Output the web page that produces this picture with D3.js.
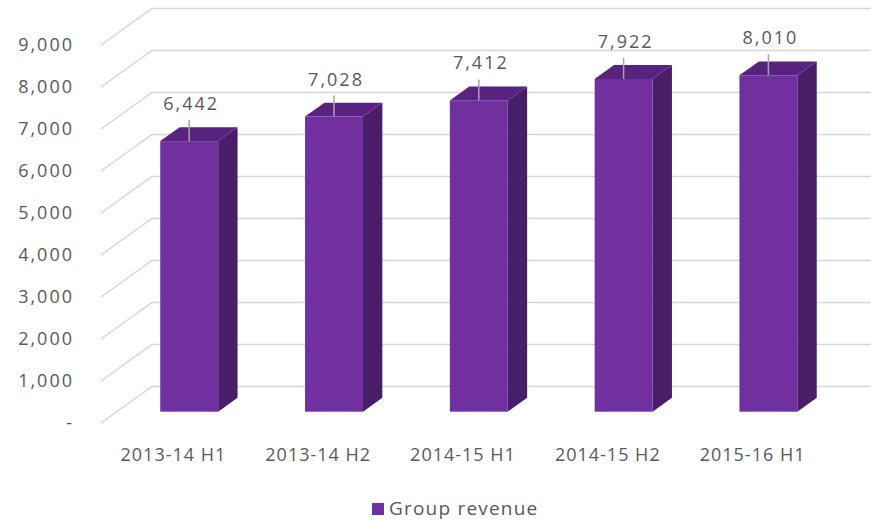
<!DOCTYPE html>
<html>
<head>
<meta charset="utf-8">
<script src="https://cdn.jsdelivr.net/npm/d3@7"></script>
<style>
  body { margin: 0; background: #fff; }
  svg text { font-family: "Open Sans", sans-serif; fill: #595959; }
</style>
</head>
<body>
<div id="chart"><svg width="871" height="522"></svg></div>
<script>
// data
const categories = ["2013-14 H1", "2013-14 H2", "2014-15 H1", "2014-15 H2", "2015-16 H1"];
const revenue = [6442, 7028, 7412, 7922, 8010];
const yTicks = [0, 1000, 2000, 3000, 4000, 5000, 6000, 7000, 8000, 9000];
const seriesName = "Group revenue";

const data = categories.map((c, i) => ({cat: c, value: revenue[i]}));

/***** SETUP *****/
const svg = d3.select("#chart").select("svg");
const width = 871;

// oblique depth: z=0 front of floor, z=1 back wall
const depthX = 51, depthY = 36.5;
const zFront = 0.31, zBack = 0.69;

const xScale = d3.scaleBand()
    .domain(categories)
    .range([101, 825])
    .paddingInner(0.6)
    .paddingOuter(0.3);

const yScale = d3.scaleLinear()
    .domain([0, 9000])
    .range([423, 45]);

const fmt = d3.format(",");

/***** GRIDLINES *****/
const grid = svg.append("g").attr("class", "grid");
grid.selectAll("polyline")
    .data(yTicks)
    .join("polyline")
    .attr("points", d => {
        const y = yScale(d);
        return [[101, y], [101 + depthX, y - depthY], [width, y - depthY]].join(" ");
    })
    .attr("fill", "none")
    .attr("stroke", "#d6d6d6")
    .attr("stroke-width", 1.5);

/***** Y AXIS LABELS *****/
svg.append("g").attr("class", "yAxis")
    .selectAll("text")
    .data(yTicks)
    .join("text")
    .attr("x", 74)
    .attr("y", d => yScale(d))
    .attr("dy", "0.36em")
    .attr("text-anchor", "end")
    .style("font-size", "18px")
    .style("letter-spacing", "2px")
    .text(d => d === 0 ? "-" : fmt(d));

/***** BARS *****/
const bars = svg.append("g").attr("class", "bars");
const g = bars.selectAll("g")
    .data(data)
    .join("g");

function pt(x, y, z) { return [x + depthX * z, y - depthY * z]; }

// side face
g.append("polygon")
    .attr("points", d => {
        const x = xScale(d.cat) + xScale.bandwidth();
        return [pt(x, yScale(0), zFront), pt(x, yScale(0), zBack),
                pt(x, yScale(d.value), zBack), pt(x, yScale(d.value), zFront)].join(" ");
    })
    .attr("fill", "#481e68");

// top face
g.append("polygon")
    .attr("points", d => {
        const x0 = xScale(d.cat), x1 = x0 + xScale.bandwidth(), y = yScale(d.value);
        return [pt(x0, y, zFront), pt(x1, y, zFront), pt(x1, y, zBack), pt(x0, y, zBack)].join(" ");
    })
    .attr("fill", "#57237f");

// front face
g.append("rect")
    .attr("x", d => pt(xScale(d.cat), 0, zFront)[0])
    .attr("y", d => pt(0, yScale(d.value), zFront)[1])
    .attr("width", xScale.bandwidth())
    .attr("height", d => yScale(0) - yScale(d.value))
    .attr("fill", "#7030a0");

/***** DATA LABELS *****/
g.append("line")
    .attr("x1", d => pt(xScale(d.cat) + xScale.bandwidth() / 2, 0, zFront)[0])
    .attr("x2", d => pt(xScale(d.cat) + xScale.bandwidth() / 2, 0, zFront)[0])
    .attr("y1", d => pt(0, yScale(d.value), zFront)[1])
    .attr("y2", d => pt(0, yScale(d.value), zFront)[1] - 21)
    .attr("stroke", "#a6a6a6")
    .attr("stroke-width", 1.5);

g.append("text")
    .attr("x", d => pt(xScale(d.cat) + xScale.bandwidth() / 2, 0, zFront)[0] + 2)
    .attr("y", d => pt(0, yScale(d.value), zFront)[1] - 31)
    .attr("text-anchor", "middle")
    .style("font-size", "18px")
    .style("letter-spacing", "2px")
    .text(d => fmt(d.value));

/***** X AXIS LABELS *****/
svg.append("g").attr("class", "xAxis")
    .selectAll("text")
    .data(categories)
    .join("text")
    .attr("x", d => xScale(d) + xScale.bandwidth() / 2)
    .attr("y", 461)
    .attr("text-anchor", "middle")
    .style("font-size", "18px")
    .style("letter-spacing", "1px")
    .text(d => d);

/***** LEGEND *****/
const legend = svg.append("g").attr("class", "legend");
legend.append("rect")
    .attr("x", 372).attr("y", 503)
    .attr("width", 12).attr("height", 12)
    .attr("fill", "#7030a0");
legend.append("text")
    .attr("x", 389).attr("y", 515)
    .style("font-size", "19px")
    .style("letter-spacing", "1.2px")
    .text(seriesName);
</script>
</body>
</html>
